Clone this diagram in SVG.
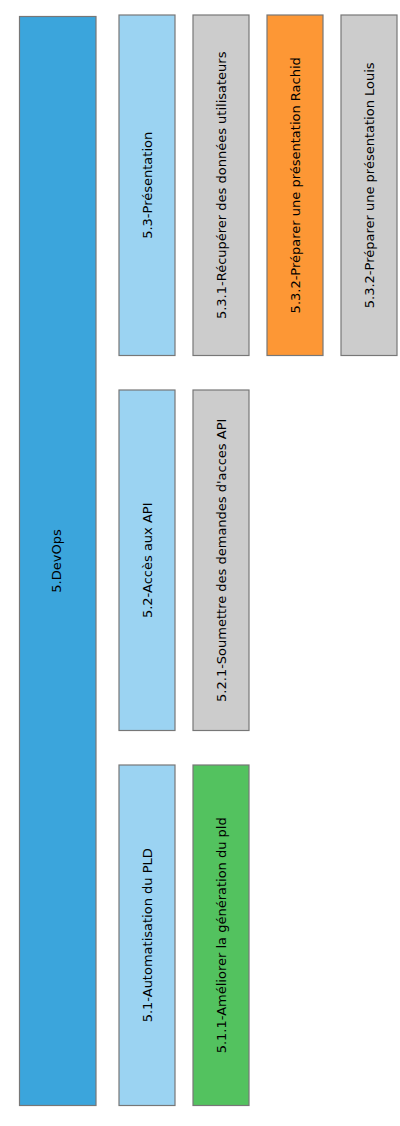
<svg xmlns="http://www.w3.org/2000/svg" width="400" height="1126" viewBox="0 0 400 1126">
<style>
.n rect{stroke:#777777;stroke-width:1.2}
.n text{font-family:"DejaVu Sans",sans-serif;font-size:13px;fill:#000;text-anchor:middle}
.root{fill:#3ba5dc}
.l1{fill:#9bd3f2}
.g{fill:#cccccc}
.o{fill:#fd9735}
.gr{fill:#53c25f}
</style>
<rect width="400" height="1126" fill="#ffffff"/>
<g id="connectors"></g>
<g id="n5" class="n"><rect class="root" x="19.5" y="16.5" width="76.5" height="1089"/><text transform="translate(60.5,561) rotate(-90)">5.DevOps</text></g>
<g id="n53" class="n"><rect class="l1" x="119" y="15" width="56" height="340.5"/><text transform="translate(152.3,185.3) rotate(-90)">5.3-Présentation</text></g>
<g id="n531" class="n"><rect class="g" x="193" y="15" width="56" height="340.5"/><text transform="translate(226.3,185.3) rotate(-90)">5.3.1-Récupérer des données utilisateurs</text></g>
<g id="n532r" class="n"><rect class="o" x="267" y="15" width="56" height="340.5"/><text transform="translate(300.3,185.3) rotate(-90)">5.3.2-Préparer une présentation Rachid</text></g>
<g id="n532l" class="n"><rect class="g" x="341" y="15" width="56" height="340.5"/><text transform="translate(374.3,185.3) rotate(-90)">5.3.2-Préparer une présentation Louis</text></g>
<g id="n52" class="n"><rect class="l1" x="119" y="390" width="56" height="340.5"/><text transform="translate(152.3,560.3) rotate(-90)">5.2-Accès aux API</text></g>
<g id="n521" class="n"><rect class="g" x="193" y="390" width="56" height="340.5"/><text transform="translate(226.3,560.3) rotate(-90)">5.2.1-Soumettre des demandes d'acces API</text></g>
<g id="n51" class="n"><rect class="l1" x="119" y="765" width="56" height="340.5"/><text transform="translate(152.3,935.3) rotate(-90)">5.1-Automatisation du PLD</text></g>
<g id="n511" class="n"><rect class="gr" x="193" y="765" width="56" height="340.5"/><text transform="translate(226.3,935.3) rotate(-90)">5.1.1-Améliorer la génération du pld</text></g>
</svg>
